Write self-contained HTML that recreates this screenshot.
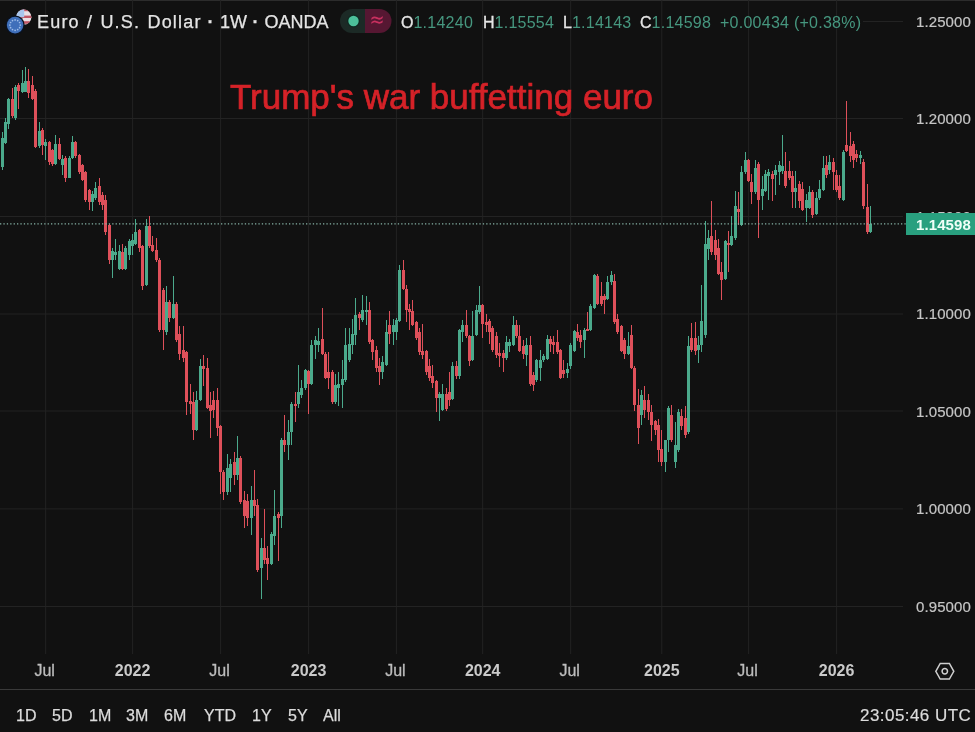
<!DOCTYPE html>
<html><head><meta charset="utf-8"><style>
*{margin:0;padding:0;box-sizing:border-box}
html,body{width:975px;height:732px;overflow:hidden;background:#111111}
body{position:relative;font-family:"Liberation Sans",Arial,sans-serif;color:#c5c5c5}
svg{position:absolute;left:0;top:0}
#wrap{position:absolute;left:0;top:0;width:975px;height:732px;filter:blur(0.35px)}
.pl{position:absolute;left:916px;font-size:15px;line-height:18px;color:#c5c5c5;letter-spacing:0.1px;-webkit-text-stroke:0.2px #c5c5c5}
.tl{position:absolute;top:662px;width:60px;text-align:center;font-size:16px;line-height:18px;color:#bdbdbd;-webkit-text-stroke:0.3px #bdbdbd}
.tl.m{margin-left:-1px}
.tl.b{font-weight:bold;color:#cacaca;-webkit-text-stroke:0}
.hd{position:absolute;top:10.7px;font-size:18px;line-height:22px;color:#e4e4e4;white-space:nowrap;-webkit-text-stroke:0.25px #e4e4e4}
.ohlc{position:absolute;top:12.5px;font-size:16px;line-height:20px;white-space:nowrap}
.k{color:#e6e6e6;-webkit-text-stroke:0.3px #e6e6e6} .v{color:#46977f;letter-spacing:0.25px}
#note{position:absolute;left:230px;top:77px;font-size:35px;line-height:40px;color:#d52228;white-space:nowrap;-webkit-text-stroke:0.7px #d52228}
.rb{position:absolute;top:705.6px;font-size:16px;line-height:20px;color:#dcdcdc;-webkit-text-stroke:0.25px #dcdcdc}
#utc{position:absolute;top:705.5px;left:860px;font-size:17px;letter-spacing:0.45px;line-height:20px;color:#dcdcdc;white-space:nowrap;-webkit-text-stroke:0.2px #dcdcdc}
#lastbox{position:absolute;left:906px;top:212.7px;width:69px;height:22.2px;background:#29a07f;color:#effff8;font-size:15px;font-weight:bold;line-height:24.5px;padding-left:10px;letter-spacing:0.1px}
</style></head><body><div id="wrap">
<svg width="975" height="732" viewBox="0 0 975 732">
<rect x="0" y="0" width="975" height="1" fill="#2c2c2c"/>
<path d="M45.7 0V654 M132.6 0V654 M220.6 0V654 M308.6 0V654 M396.4 0V654 M482.7 0V654 M570.7 0V654 M661.8 0V654 M748.6 0V654 M836.6 0V654" stroke="#232323" stroke-width="1" fill="none"/>
<path d="M863 21.5H903 M0 118.5H903 M0 216.5H903 M0 314.0H903 M0 411.0H903 M0 508.9H903 M0 606.5H903" stroke="#232323" stroke-width="1" fill="none"/>
<path d="M-2 146h1v32h-1z M-3 150h3v22h-3z M2 132h1v38h-1z M1 138h3v29h-3z M5 118h1v26h-1z M4 122h3v21h-3z M8 98h1v31h-1z M7 99h3v25h-3z M15 85h1v35h-1z M14 87h3v31h-3z M22 70h1v23h-1z M21 83h3v9h-3z M25 67h1v25h-1z M24 81h3v11h-3z M39 122h1v26h-1z M38 131h3v15h-3z M45 139h1v21h-1z M44 142h3v4h-3z M55 135h1v30h-1z M54 144h3v20h-3z M62 155h1v20h-1z M61 159h3v6h-3z M69 156h1v22h-1z M68 158h3v20h-3z M72 136h1v23h-1z M71 142h3v16h-3z M92 191h1v20h-1z M91 194h3v8h-3z M95 182h1v18h-1z M94 188h3v10h-3z M112 248h1v30h-1z M111 251h3v9h-3z M115 239h1v21h-1z M114 252h3v3h-3z M119 245h1v25h-1z M118 251h3v18h-3z M125 246h1v24h-1z M124 248h3v21h-3z M129 239h1v21h-1z M128 241h3v14h-3z M132 234h1v21h-1z M131 240h3v6h-3z M135 219h1v26h-1z M134 232h3v12h-3z M146 219h1v67h-1z M145 226h3v59h-3z M166 286h1v49h-1z M165 302h3v30h-3z M173 276h1v43h-1z M172 304h3v14h-3z M196 391h1v40h-1z M195 400h3v30h-3z M200 359h1v42h-1z M199 366h3v34h-3z M227 454h1v41h-1z M226 468h3v24h-3z M230 459h1v33h-1z M229 464h3v14h-3z M237 436h1v44h-1z M236 458h3v17h-3z M251 486h1v49h-1z M250 500h3v18h-3z M261 538h1v61h-1z M260 548h3v20h-3z M271 532h1v33h-1z M270 534h3v30h-3z M274 490h1v55h-1z M273 516h3v20h-3z M281 438h1v90h-1z M280 440h3v76h-3z M288 420h1v40h-1z M287 432h3v13h-3z M291 402h1v43h-1z M290 404h3v28h-3z M298 365h1v43h-1z M297 392h3v12h-3z M301 380h1v18h-1z M300 388h3v7h-3z M305 369h1v21h-1z M304 370h3v18h-3z M311 340h1v45h-1z M310 345h3v39h-3z M315 336h1v23h-1z M314 340h3v5h-3z M318 328h1v24h-1z M317 341h3v4h-3z M335 374h1v30h-1z M334 385h3v17h-3z M338 372h1v34h-1z M337 384h3v4h-3z M342 360h1v48h-1z M341 379h3v6h-3z M345 328h1v54h-1z M344 345h3v35h-3z M349 328h1v34h-1z M348 344h3v16h-3z M352 319h1v35h-1z M351 334h3v11h-3z M355 298h1v47h-1z M354 315h3v20h-3z M362 295h1v27h-1z M361 310h3v10h-3z M366 296h1v29h-1z M365 310h3v2h-3z M382 356h1v23h-1z M381 362h3v10h-3z M386 320h1v46h-1z M385 332h3v33h-3z M393 319h1v26h-1z M392 325h3v7h-3z M396 318h1v22h-1z M395 320h3v12h-3z M399 265h1v57h-1z M398 270h3v51h-3z M439 392h1v29h-1z M438 394h3v4h-3z M442 384h1v27h-1z M441 394h3v16h-3z M452 362h1v38h-1z M451 366h3v33h-3z M459 329h1v50h-1z M458 330h3v46h-3z M462 320h1v22h-1z M461 325h3v7h-3z M472 311h1v50h-1z M471 336h3v24h-3z M476 305h1v31h-1z M475 310h3v25h-3z M479 286h1v28h-1z M478 305h3v7h-3z M506 336h1v24h-1z M505 342h3v16h-3z M509 339h1v13h-1z M508 342h3v4h-3z M513 316h1v30h-1z M512 325h3v20h-3z M526 338h1v28h-1z M525 345h3v10h-3z M536 359h1v23h-1z M535 360h3v20h-3z M540 350h1v31h-1z M539 360h3v8h-3z M543 354h1v8h-1z M542 356h3v4h-3z M547 335h1v25h-1z M546 339h3v20h-3z M567 363h1v15h-1z M566 369h3v4h-3z M570 343h1v26h-1z M569 345h3v21h-3z M574 330h1v22h-1z M573 331h3v20h-3z M584 328h1v30h-1z M583 330h3v10h-3z M590 304h1v27h-1z M589 306h3v24h-3z M594 274h1v35h-1z M593 275h3v33h-3z M607 276h1v24h-1z M606 282h3v17h-3z M611 271h1v14h-1z M610 275h3v7h-3z M628 332h1v23h-1z M627 346h3v8h-3z M641 390h1v35h-1z M640 395h3v20h-3z M665 440h1v32h-1z M664 440h3v22h-3z M668 406h1v46h-1z M667 408h3v32h-3z M675 422h1v46h-1z M674 445h3v17h-3z M678 409h1v43h-1z M677 412h3v38h-3z M688 336h1v98h-1z M687 346h3v86h-3z M698 336h1v27h-1z M697 345h3v5h-3z M701 285h1v67h-1z M700 321h3v24h-3z M705 221h1v117h-1z M704 244h3v91h-3z M708 230h1v30h-1z M707 238h3v11h-3z M725 240h1v40h-1z M724 241h3v38h-3z M731 216h1v30h-1z M730 236h3v9h-3z M735 191h1v49h-1z M734 206h3v32h-3z M741 166h1v60h-1z M740 172h3v53h-3z M745 152h1v22h-1z M744 160h3v12h-3z M755 160h1v34h-1z M754 168h3v24h-3z M762 176h1v34h-1z M761 189h3v7h-3z M765 170h1v22h-1z M764 174h3v17h-3z M768 169h1v31h-1z M767 172h3v4h-3z M775 165h1v30h-1z M774 170h3v5h-3z M779 161h1v24h-1z M778 165h3v7h-3z M782 135h1v39h-1z M781 166h3v5h-3z M795 171h1v37h-1z M794 188h3v4h-3z M806 194h1v28h-1z M805 200h3v8h-3z M809 186h1v23h-1z M808 192h3v16h-3z M816 192h1v23h-1z M815 198h3v16h-3z M819 180h1v20h-1z M818 189h3v9h-3z M823 156h1v35h-1z M822 168h3v22h-3z M829 155h1v19h-1z M828 162h3v8h-3z M843 150h1v51h-1z M842 152h3v48h-3z M860 151h1v13h-1z M859 155h3v3h-3z M870 206h1v27h-1z M869 224h3v8h-3z" fill="#4baa8c"/>
<path d="M12 88h1v30h-1z M11 99h3v17h-3z M18 83h1v26h-1z M17 85h3v6h-3z M28 69h1v29h-1z M27 81h3v12h-3z M32 76h1v24h-1z M31 85h3v14h-3z M35 89h1v59h-1z M34 91h3v56h-3z M42 128h1v27h-1z M41 130h3v15h-3z M49 141h1v24h-1z M48 142h3v20h-3z M52 149h1v17h-1z M51 150h3v14h-3z M59 138h1v22h-1z M58 144h3v15h-3z M65 156h1v26h-1z M64 158h3v20h-3z M75 141h1v17h-1z M74 142h3v14h-3z M79 154h1v20h-1z M78 155h3v17h-3z M82 164h1v17h-1z M81 165h3v15h-3z M85 171h1v31h-1z M84 172h3v28h-3z M89 189h1v21h-1z M88 190h3v12h-3z M99 178h1v27h-1z M98 186h3v16h-3z M102 192h1v18h-1z M101 195h3v10h-3z M105 195h1v40h-1z M104 200h3v32h-3z M109 224h1v40h-1z M108 225h3v35h-3z M122 244h1v26h-1z M121 252h3v17h-3z M139 229h1v23h-1z M138 230h3v18h-3z M142 245h1v45h-1z M141 246h3v40h-3z M149 216h1v32h-1z M148 226h3v20h-3z M152 236h1v16h-1z M151 245h3v6h-3z M156 238h1v24h-1z M155 250h3v10h-3z M159 258h1v74h-1z M158 260h3v70h-3z M163 288h1v62h-1z M162 290h3v40h-3z M169 300h1v22h-1z M168 302h3v16h-3z M176 302h1v40h-1z M175 304h3v36h-3z M179 326h1v34h-1z M178 334h3v20h-3z M183 326h1v36h-1z M182 350h3v8h-3z M186 351h1v64h-1z M185 352h3v50h-3z M190 384h1v30h-1z M189 401h3v3h-3z M193 392h1v48h-1z M192 402h3v28h-3z M203 355h1v31h-1z M202 366h3v3h-3z M207 358h1v51h-1z M206 368h3v40h-3z M210 392h1v46h-1z M209 405h3v6h-3z M213 391h1v27h-1z M212 400h3v10h-3z M217 388h1v48h-1z M216 400h3v28h-3z M220 425h1v69h-1z M219 426h3v46h-3z M223 470h1v30h-1z M222 472h3v20h-3z M234 452h1v33h-1z M233 462h3v13h-3z M240 456h1v48h-1z M239 458h3v44h-3z M244 491h1v37h-1z M243 500h3v16h-3z M247 494h1v32h-1z M246 501h3v17h-3z M254 470h1v46h-1z M253 500h3v6h-3z M257 499h1v73h-1z M256 505h3v65h-3z M264 509h1v55h-1z M263 548h3v12h-3z M267 546h1v34h-1z M266 558h3v6h-3z M278 512h1v49h-1z M277 514h3v4h-3z M284 415h1v37h-1z M283 440h3v5h-3z M295 392h1v30h-1z M294 404h3v2h-3z M308 370h1v44h-1z M307 371h3v13h-3z M322 308h1v47h-1z M321 339h3v15h-3z M325 352h1v27h-1z M324 354h3v24h-3z M328 352h1v37h-1z M327 372h3v6h-3z M332 370h1v34h-1z M331 372h3v30h-3z M359 312h1v18h-1z M358 314h3v4h-3z M369 302h1v42h-1z M368 310h3v32h-3z M372 339h1v21h-1z M371 340h3v12h-3z M376 346h1v26h-1z M375 350h3v18h-3z M379 358h1v27h-1z M378 366h3v6h-3z M389 311h1v33h-1z M388 325h3v9h-3z M403 260h1v30h-1z M402 270h3v19h-3z M406 285h1v37h-1z M405 289h3v21h-3z M409 304h1v26h-1z M408 309h3v3h-3z M412 300h1v26h-1z M411 311h3v14h-3z M416 321h1v19h-1z M415 322h3v16h-3z M419 328h1v27h-1z M418 332h3v20h-3z M422 324h1v35h-1z M421 351h3v4h-3z M426 350h1v25h-1z M425 351h3v21h-3z M429 359h1v22h-1z M428 366h3v12h-3z M432 365h1v23h-1z M431 376h3v7h-3z M436 380h1v32h-1z M435 381h3v17h-3z M446 388h1v23h-1z M445 394h3v15h-3z M449 372h1v34h-1z M448 392h3v8h-3z M456 361h1v18h-1z M455 366h3v10h-3z M466 310h1v28h-1z M465 325h3v11h-3z M469 335h1v31h-1z M468 336h3v25h-3z M482 304h1v34h-1z M481 305h3v19h-3z M486 314h1v18h-1z M485 322h3v3h-3z M489 319h1v25h-1z M488 321h3v11h-3z M492 326h1v26h-1z M491 328h3v22h-3z M496 332h1v26h-1z M495 336h3v19h-3z M499 343h1v24h-1z M498 353h3v3h-3z M503 350h1v22h-1z M502 353h3v5h-3z M516 320h1v18h-1z M515 325h3v11h-3z M519 325h1v27h-1z M518 336h3v15h-3z M523 340h1v19h-1z M522 346h3v8h-3z M530 336h1v50h-1z M529 345h3v39h-3z M533 372h1v19h-1z M532 375h3v10h-3z M550 336h1v16h-1z M549 339h3v5h-3z M553 336h1v18h-1z M552 342h3v3h-3z M557 330h1v24h-1z M556 342h3v10h-3z M560 349h1v30h-1z M559 350h3v28h-3z M563 360h1v18h-1z M562 370h3v4h-3z M577 324h1v17h-1z M576 332h3v6h-3z M580 330h1v18h-1z M579 335h3v7h-3z M587 312h1v19h-1z M586 329h3v2h-3z M597 274h1v31h-1z M596 276h3v28h-3z M601 282h1v24h-1z M600 296h3v8h-3z M604 294h1v20h-1z M603 296h3v4h-3z M614 274h1v50h-1z M613 281h3v41h-3z M617 314h1v20h-1z M616 319h3v13h-3z M621 325h1v27h-1z M620 326h3v25h-3z M624 338h1v21h-1z M623 340h3v14h-3z M631 325h1v44h-1z M630 335h3v33h-3z M634 366h1v45h-1z M633 368h3v37h-3z M638 389h1v55h-1z M637 405h3v23h-3z M644 386h1v32h-1z M643 400h3v10h-3z M648 394h1v26h-1z M647 400h3v12h-3z M651 405h1v36h-1z M650 412h3v13h-3z M655 420h1v15h-1z M654 421h3v9h-3z M658 419h1v43h-1z M657 425h3v25h-3z M661 430h1v36h-1z M660 449h3v13h-3z M671 405h1v37h-1z M670 415h3v25h-3z M681 409h1v21h-1z M680 416h3v10h-3z M685 406h1v32h-1z M684 418h3v17h-3z M691 323h1v29h-1z M690 338h3v12h-3z M695 322h1v33h-1z M694 338h3v13h-3z M711 201h1v54h-1z M710 236h3v16h-3z M715 230h1v30h-1z M714 240h3v15h-3z M718 239h1v36h-1z M717 248h3v26h-3z M721 262h1v38h-1z M720 272h3v8h-3z M728 231h1v41h-1z M727 243h3v2h-3z M738 192h1v33h-1z M737 209h3v3h-3z M748 159h1v23h-1z M747 160h3v21h-3z M751 174h1v30h-1z M750 182h3v10h-3z M758 162h1v76h-1z M757 164h3v36h-3z M772 171h1v30h-1z M771 174h3v5h-3z M785 152h1v36h-1z M784 171h3v15h-3z M789 161h1v19h-1z M788 171h3v7h-3z M792 171h1v37h-1z M791 176h3v16h-3z M799 181h1v27h-1z M798 184h3v17h-3z M802 182h1v29h-1z M801 189h3v21h-3z M812 190h1v28h-1z M811 192h3v23h-3z M826 156h1v22h-1z M825 165h3v10h-3z M833 158h1v32h-1z M832 162h3v10h-3z M836 170h1v22h-1z M835 175h3v15h-3z M839 175h1v25h-1z M838 186h3v12h-3z M846 101h1v51h-1z M845 145h3v6h-3z M850 132h1v30h-1z M849 146h3v10h-3z M853 141h1v27h-1z M852 144h3v16h-3z M856 150h1v12h-1z M855 154h3v4h-3z M863 159h1v50h-1z M862 162h3v44h-3z M867 184h1v50h-1z M866 207h3v25h-3z" fill="#de505a"/>
<line x1="0" y1="223.8" x2="906" y2="223.8" stroke="#86b3a6" stroke-width="1.3" stroke-dasharray="1.3 2.1"/>
<rect x="0" y="689" width="975" height="1" fill="#3a3a3a"/>
<g transform="translate(944.8 671.3)" fill="none" stroke="#cfcfcf" stroke-width="1.5">
<path d="M-9 0L-4.6 -7.8H4.6L9 0L4.6 7.8H-4.6Z"/>
<circle r="2.7"/>
</g>
<defs><clipPath id="usc"><circle cx="23.8" cy="17.2" r="7.6"/></clipPath></defs>
<g clip-path="url(#usc)">
<rect x="16" y="9" width="16" height="17" fill="#eadfe4"/>
<rect x="16" y="15.6" width="16" height="2.4" fill="#c25766"/>
<rect x="16" y="21.2" width="16" height="2.6" fill="#c25766"/>
<rect x="16" y="9" width="16" height="2.2" fill="#c25766"/>
<rect x="16" y="9" width="8.2" height="8.2" fill="#a9c6ee"/>
</g>
<circle cx="15.1" cy="25.1" r="9.6" fill="#0a1220"/>
<circle cx="15.1" cy="25.1" r="8.3" fill="#3f6fba"/>
<g fill="#9dbce8"><circle cx="20.30" cy="25.10" r="0.85"/><circle cx="19.60" cy="27.70" r="0.85"/><circle cx="17.70" cy="29.60" r="0.85"/><circle cx="15.10" cy="30.30" r="0.85"/><circle cx="12.50" cy="29.60" r="0.85"/><circle cx="10.60" cy="27.70" r="0.85"/><circle cx="9.90" cy="25.10" r="0.85"/><circle cx="10.60" cy="22.50" r="0.85"/><circle cx="12.50" cy="20.60" r="0.85"/><circle cx="15.10" cy="19.90" r="0.85"/><circle cx="17.70" cy="20.60" r="0.85"/><circle cx="19.60" cy="22.50" r="0.85"/></g>
<g>
<path d="M352 9H365V33H352a12 12 0 0 1 0 -24Z" fill="#1c2a26"/>
<path d="M365 9H379.5a12 12 0 0 1 0 24H365Z" fill="#561732"/>
<circle cx="353.5" cy="21" r="6.5" fill="#0f2a22"/>
<circle cx="353.5" cy="21" r="5.2" fill="#4cc09a"/>
<text x="377" y="26" font-size="18" fill="#c8305f" transform="translate(377 21) scale(1 1.25) translate(-377 -21)" text-anchor="middle" font-family="DejaVu Sans, Liberation Sans, sans-serif">≈</text>
</g>
</svg>
<div class="hd" style="left:37px;letter-spacing:1.2px;word-spacing:1px">Euro / U.S. Dollar</div>
<div class="hd" style="left:207.5px;font-weight:bold">·</div>
<div class="hd" style="left:220px">1W</div>
<div class="hd" style="left:252.5px;font-weight:bold">·</div>
<div class="hd" style="left:264.5px">OANDA</div>
<div class="ohlc" style="left:401px"><span class="k">O</span><span class="v">1.14240</span></div>
<div class="ohlc" style="left:483px"><span class="k">H</span><span class="v">1.15554</span></div>
<div class="ohlc" style="left:563px"><span class="k">L</span><span class="v">1.14143</span></div>
<div class="ohlc" style="left:640px"><span class="k">C</span><span class="v">1.14598</span></div>
<div class="ohlc" style="left:720px"><span class="v">+0.00434 (+0.38%)</span></div>
<div id="note">Trump's war buffetting euro</div>
<div class="pl" style="top:12.6px">1.25000</div>
<div class="pl" style="top:110.1px">1.20000</div>
<div class="pl" style="top:207.7px">1.15000</div>
<div class="pl" style="top:305.2px">1.10000</div>
<div class="pl" style="top:402.7px">1.05000</div>
<div class="pl" style="top:500.3px">1.00000</div>
<div class="pl" style="top:597.8px">0.95000</div>

<div id="lastbox">1.14598</div>
<div class="tl m" style="left:15.7px">Jul</div>
<div class="tl b" style="left:102.6px">2022</div>
<div class="tl m" style="left:190.6px">Jul</div>
<div class="tl b" style="left:278.6px">2023</div>
<div class="tl m" style="left:366.4px">Jul</div>
<div class="tl b" style="left:452.7px">2024</div>
<div class="tl m" style="left:540.7px">Jul</div>
<div class="tl b" style="left:631.8px">2025</div>
<div class="tl m" style="left:718.6px">Jul</div>
<div class="tl b" style="left:806.6px">2026</div>

<div class="rb" style="left:16px">1D</div>
<div class="rb" style="left:52px">5D</div>
<div class="rb" style="left:89px">1M</div>
<div class="rb" style="left:126px">3M</div>
<div class="rb" style="left:164px">6M</div>
<div class="rb" style="left:204px">YTD</div>
<div class="rb" style="left:252px">1Y</div>
<div class="rb" style="left:288px">5Y</div>
<div class="rb" style="left:323px">All</div>
<div id="utc">23:05:46 UTC</div>
</div></body></html>
